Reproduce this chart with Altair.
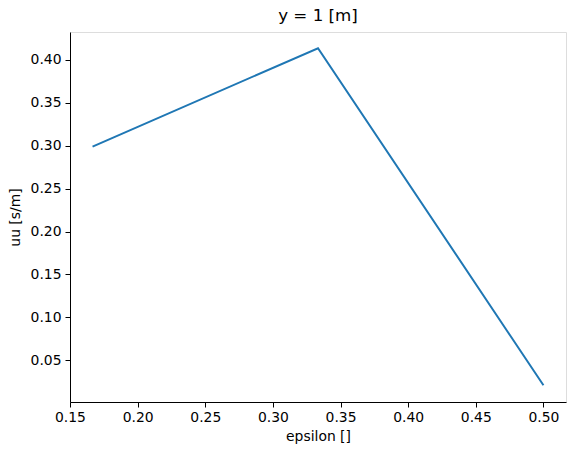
import altair as alt
import pandas as pd

epsilon = [1/6, 1/3, 0.5]
uu = [0.299, 0.4137, 0.021]
x_ticks = [0.15, 0.20, 0.25, 0.30, 0.35, 0.40, 0.45, 0.50]
y_ticks = [0.05, 0.10, 0.15, 0.20, 0.25, 0.30, 0.35, 0.40]

df = pd.DataFrame({"epsilon": epsilon, "uu": uu})

FONT = "DejaVu Sans"

chart = alt.Chart(df).mark_line(color="#1f77b4", strokeWidth=2).encode(
    x=alt.X("epsilon:Q",
            scale=alt.Scale(domain=[0.15, 0.51667], nice=False, zero=False),
            axis=alt.Axis(values=x_ticks, format=".2f", title="epsilon []",
                          grid=False, tickSize=5, tickColor="black", domainColor="black",
                          labelFont=FONT, labelFontSize=13.9, labelColor="black",
                          labelPadding=3, titleFont=FONT, titleFontSize=13.9,
                          titleFontWeight="normal", titleColor="black", titlePadding=6,
                          labelFlush=False)),
    y=alt.Y("uu:Q",
            scale=alt.Scale(domain=[0.0014, 0.4326], nice=False, zero=False),
            axis=alt.Axis(values=y_ticks, format=".2f", title="uu [s/m]",
                          grid=False, tickSize=5, tickColor="black", domainColor="black",
                          labelFont=FONT, labelFontSize=13.9, labelColor="black",
                          labelPadding=4, titleFont=FONT, titleFontSize=13.9,
                          titleFontWeight="normal", titleColor="black", titlePadding=8,
                          labelFlush=False)),
    order=alt.Order("epsilon:Q"),
).properties(
    width=496,
    height=370,
    title=alt.TitleParams("y = 1 [m]", font=FONT, fontSize=16.7, fontWeight="normal",
                          color="black", offset=7, anchor="middle"),
    autosize=alt.AutoSizeParams(type="none"),
    padding={"left": 62, "top": 24, "right": 2, "bottom": 45},
).configure_view(stroke="black", strokeWidth=1).configure(background="white")

chart.save("out.html", embed_options={"renderer": "svg", "actions": False})
